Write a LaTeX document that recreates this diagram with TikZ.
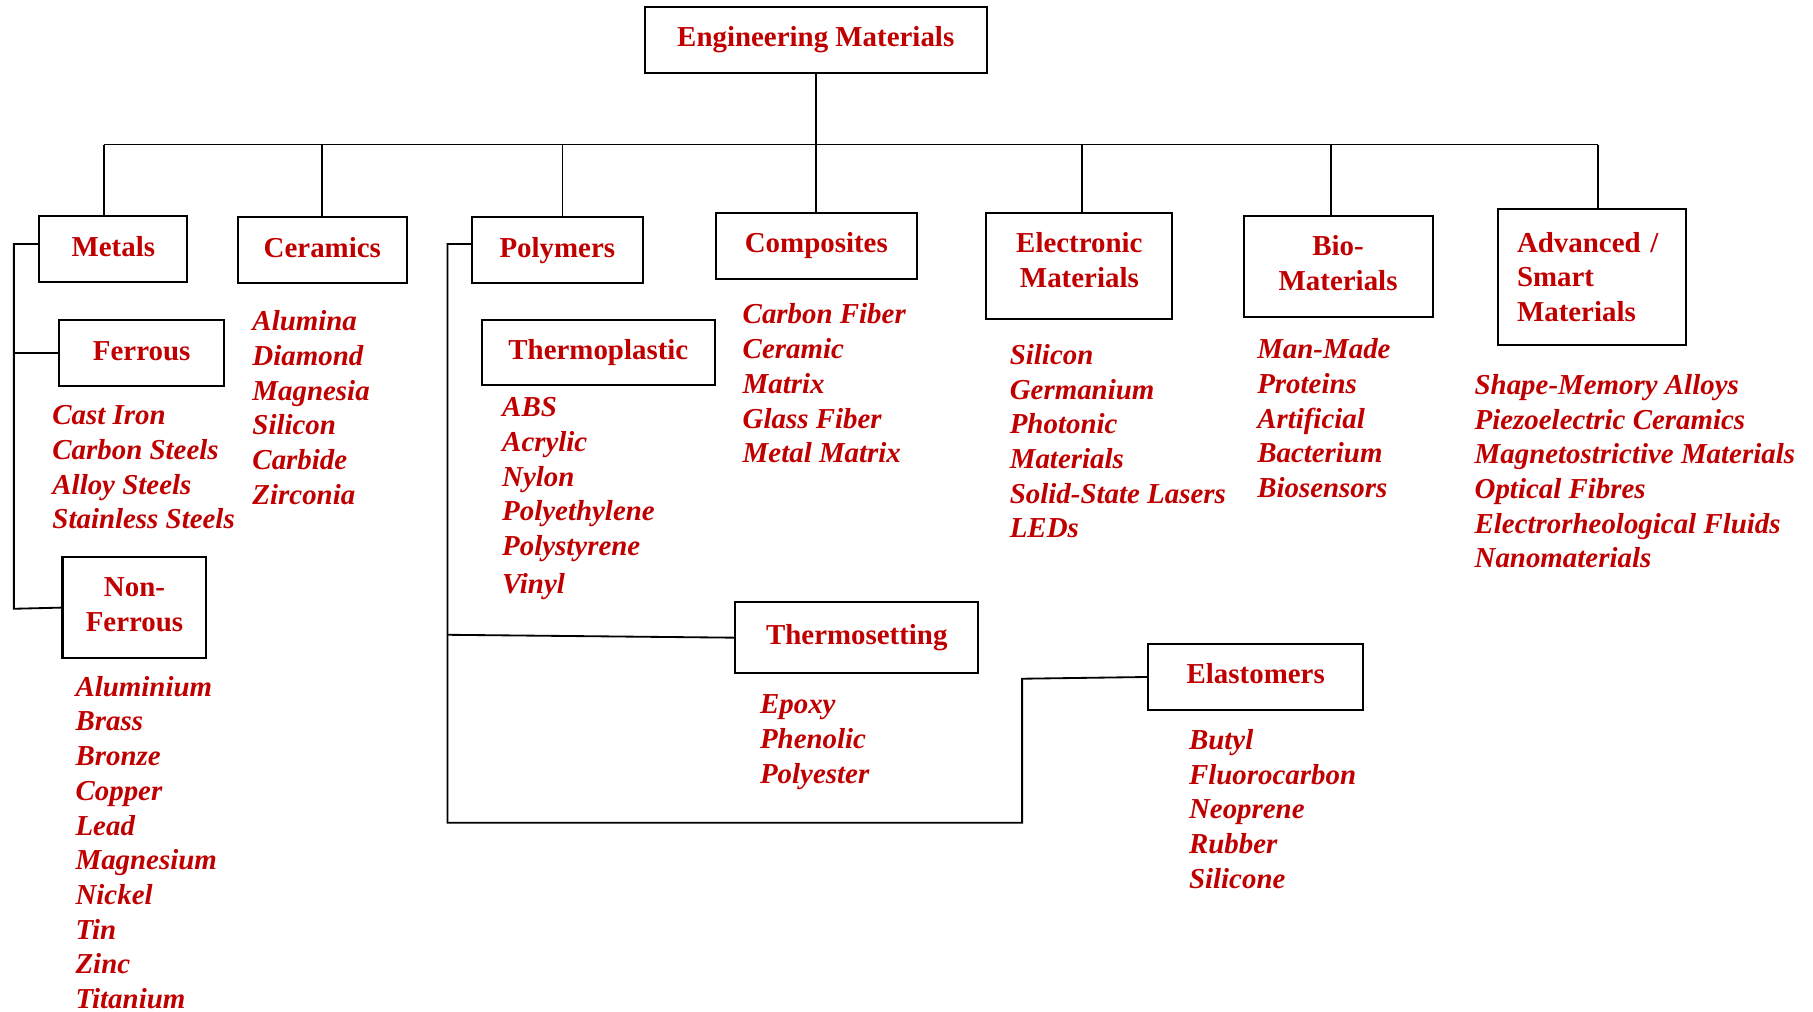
\documentclass[tikz,border=0pt]{standalone}
\usepackage{fontspec}
\setmainfont{Liberation Serif}
\usetikzlibrary{positioning}
\definecolor{MatRed}{RGB}{192,0,0}
\newcommand\matfont{\fontsize{14.23}{17.07}\selectfont}
\tikzset{
  treeline/.style={draw=black,line width=0.9pt},
  catbox/.style={draw=black,line width=1pt,inner sep=0pt,align=center,
    font=\matfont\bfseries,text=MatRed},
  onebox/.style={catbox,text height=0.36cm,text depth=0.12cm},
  itemlist/.style={anchor=north west,inner sep=0pt,align=left,
    font=\matfont\bfseries\itshape,text=MatRed}
}

\begin{document}
\begin{tikzpicture}[x=0.02cm,y=-0.02cm]
  \useasboundingbox (0,0) rectangle (1568,875);
  % top level
  \node[onebox,minimum width=5.92cm,minimum height=1.14cm] (root) at (705.5,34.5) {Engineering Materials};
  \node[onebox,minimum width=2.56cm,minimum height=1.14cm] (metals) at (98,215.5) {Metals};
  \node[onebox,minimum width=2.93cm,minimum height=1.14cm] (ceramics) at (278.75,216.5) {Ceramics};
  \node[onebox,minimum width=2.96cm,minimum height=1.14cm] (polymers) at (482,216.5) {Polymers};
  \node[onebox,minimum width=3.48cm,minimum height=1.14cm] (composites) at (706,212.5) {Composites};
  \node[catbox,minimum width=3.22cm,minimum height=1.84cm,text depth=0.2cm] (electronic) at (933.5,230) {Electronic\\Materials};
  \node[catbox,minimum width=3.27cm,minimum height=1.74cm,text depth=0.12cm] (bio) at (1157.25,230.5) {Bio-\\Materials};
  \node[catbox,minimum width=3.25cm,minimum height=2.35cm,text width=2.59cm,align=left] (advanced) at (1376.75,239.5) {Advanced /\\Smart\\Materials};
  % sub groups
  \node[onebox,minimum width=2.86cm,minimum height=1.14cm] (ferrous) at (122.5,305.5) {Ferrous};
  \node[catbox,minimum width=2.49cm,minimum height=1.76cm,text depth=0.1cm] (nonferrous) at (116.3,525.5) {Non-\\Ferrous};
  \node[onebox,minimum width=4.04cm,minimum height=1.12cm] (thermoplastic) at (517.5,305) {Thermoplastic};
  \node[onebox,minimum width=4.2cm,minimum height=1.22cm] (thermosetting) at (741,551.5) {Thermosetting};
  \node[onebox,minimum width=3.71cm,minimum height=1.14cm] (elastomers) at (1086,585.5) {Elastomers};
  % examples
  \node[itemlist] (ferrouslist) at (45,350.5) {Cast Iron\\Carbon Steels\\Alloy Steels\\Stainless Steels};
  \node[itemlist] (nonferrouslist) at (65,584.5) {Aluminium\\Brass\\Bronze\\Copper\\Lead\\Magnesium\\Nickel\\Tin\\Zinc\\Titanium};
  \node[itemlist] (ceramicslist) at (218,268.5) {Alumina\\Diamond\\Magnesia\\Silicon\\Carbide\\Zirconia};
  \node[itemlist] (thermoplasticlist) at (434,343.5) {ABS\\Acrylic\\Nylon\\Polyethylene\\Polystyrene\\[1.5pt]Vinyl};
  \node[itemlist] (thermosettinglist) at (657,600.5) {Epoxy\\Phenolic\\Polyester};
  \node[itemlist] (elastomerslist) at (1028,630.5) {Butyl\\Fluorocarbon\\Neoprene\\Rubber\\Silicone};
  \node[itemlist] (compositeslist) at (642,262.5) {Carbon Fiber\\Ceramic\\Matrix\\Glass Fiber\\Metal Matrix};
  \node[itemlist] (electroniclist) at (873,297.5) {Silicon\\Germanium\\Photonic\\Materials\\Solid-State Lasers\\LEDs};
  \node[itemlist] (biolist) at (1087,292.5) {Man-Made\\Proteins\\Artificial\\Bacterium\\Biosensors};
  \node[itemlist] (advancedlist) at (1275,323.5) {Shape-Memory Alloys\\Piezoelectric Ceramics\\Magnetostrictive Materials\\Optical Fibres\\Electrorheological Fluids\\Nanomaterials};
  % bus
  \coordinate (busL) at (90,125);
  \coordinate (busR) at (1382,125);
  \draw[treeline] (busL) -- (busR);
  \draw[treeline] (root.south) -- (root.south |- composites.north);
  \foreach \n/\x in {metals/90,ceramics/278.5,polymers/486.5,electronic/936,bio/1151,advanced/1382} {
    \coordinate (tap-\n) at (\x,125);
    \draw[treeline] (tap-\n) -- (tap-\n |- \n.north);
  }
  % metals branch
  \coordinate (mspineT) at (12,211);
  \coordinate (mspineB) at (12,526.5);
  \draw[treeline] (mspineT -| metals.west) -- (mspineT) -- (mspineB) -- (nonferrous.west);
  \draw[treeline] (mspineT |- ferrous.west) -- (ferrous.west);
  % polymers branch
  \coordinate (pspineT) at (387,211);
  \coordinate (pspineB) at (387,711.5);
  \coordinate (tsjoin) at (387,549);
  \coordinate (elbow) at (884,587);
  \draw[treeline] (pspineT -| polymers.west) -- (pspineT) -- (pspineB) -| (elbow) -- (elastomers.west);
  \draw[treeline] (tsjoin) -- (thermosetting.west);
\end{tikzpicture}
\end{document}
